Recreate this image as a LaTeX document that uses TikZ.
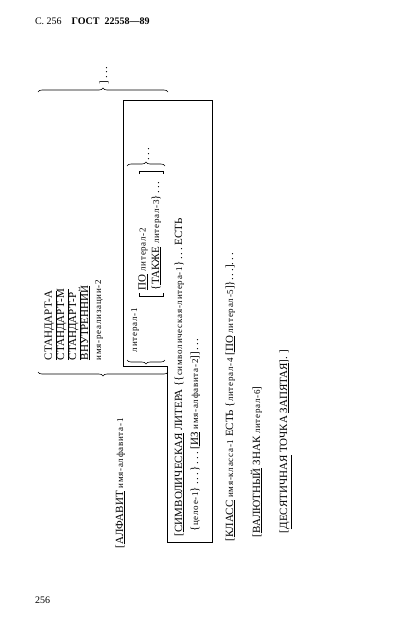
\documentclass[tikz,border=0pt]{standalone}
\usepackage{fontspec}
\setmainfont{Liberation Serif}
\usetikzlibrary{decorations.pathreplacing}
\newcommand\smtxt[1]{{\fontsize{9}{10}\selectfont\addfontfeatures{LetterSpace=8}#1}}
\newcommand\dts{.\,.\,.}
\begin{document}
\begin{tikzpicture}[x=1pt,y=-1pt,
  rt/.style={rotate=90,anchor=base west,inner sep=0pt,outer sep=0pt,font=\fontsize{11}{12}\selectfont},
  hz/.style={anchor=base west,inner sep=0pt,outer sep=0pt,font=\fontsize{10}{12}\selectfont},
  ln/.style={line width=0.6pt},
  brc/.style={decorate,decoration={brace,amplitude=4pt},line width=0.6pt}]
\useasboundingbox (0,0) rectangle (416,625);
% header and page number
\node[hz] (hdr) at (35,24) {С.~256\quad\textbf{ГОСТ\ \ 22558—89}};
\node[hz] (pg) at (35,603) {256};
% ALPHABET clause
\node[rt] (alf) at (123,548) {[\underline{АЛФАВИТ} \smtxt{имя-алфавита-1}};
\node[rt] (alfend) at (107,84) {]\,\dts};
\draw[brc] (168,372) -- (38,372);
\draw[brc] (38,92) -- (168,92);
\node[rt] (sa) at (52,360) {\underline{СТАНДАРТ-А}};
\node[rt] (sm) at (64,360) {\underline{СТАНДАРТ-М}};
\node[rt] (sr) at (76,360) {\underline{СТАНДАРТ-Р}};
\node[rt] (nat) at (88,360) {\underline{ВНУТРЕННИЙ}};
\node[rt] (impl) at (101,360) {\smtxt{имя-реализации-2}};
% literal group
\draw[brc] (165,360) -- (127,360);
\node[rt] (lit1) at (137,352) {\smtxt{литерал-1}};
\draw[ln] (139,293) -- (139,296) -- (163,296) -- (163,293);
\node[rt] (po) at (145.5,290) {\underline{ПО} \smtxt{литерал-2}};
\node[rt] (also) at (159,290) {\{\underline{ТАКЖЕ} \smtxt{литерал-3}\}\,\dts};
\draw[ln] (139,174) -- (139,171) -- (163,171) -- (163,174);
\draw[brc] (127,166) -- (165,166);
\node[rt] (litdots) at (149,160) {\dts};
% level-2 box
\draw[ln] (123,100) -- (212,100) -- (212,542) -- (167,542) -- (167,366) -- (123,366) -- cycle;
% symbolic characters
\node[rt] (sym) at (182,536) {[\underline{СИМВОЛИЧЕСКАЯ} ЛИТЕРА \{\{\smtxt{символическая-литера-1}\}\,\dts\ ЕСТЬ};
\node[rt] (int) at (198,531) {\{\smtxt{целое-1}\}\,\dts\,\}\,\dts\ [\underline{ИЗ} \smtxt{имя-алфавита-2}]]\,\dts};
% class, currency, decimal
\node[rt] (cls) at (233,541) {[\underline{КЛАСС} \smtxt{имя-класса-1} ЕСТЬ \{\smtxt{литерал-4} [\underline{ПО} \smtxt{литерал-5}]\}\dts]\dts};
\node[rt] (cur) at (260,537) {[\underline{ВАЛЮТНЫЙ} ЗНАК \smtxt{литерал-6}]};
\node[rt] (dec) at (287,533) {[\underline{ДЕСЯТИЧНАЯ} ТОЧКА \underline{ЗАПЯТАЯ}].\ ]};
\end{tikzpicture}
\end{document}
